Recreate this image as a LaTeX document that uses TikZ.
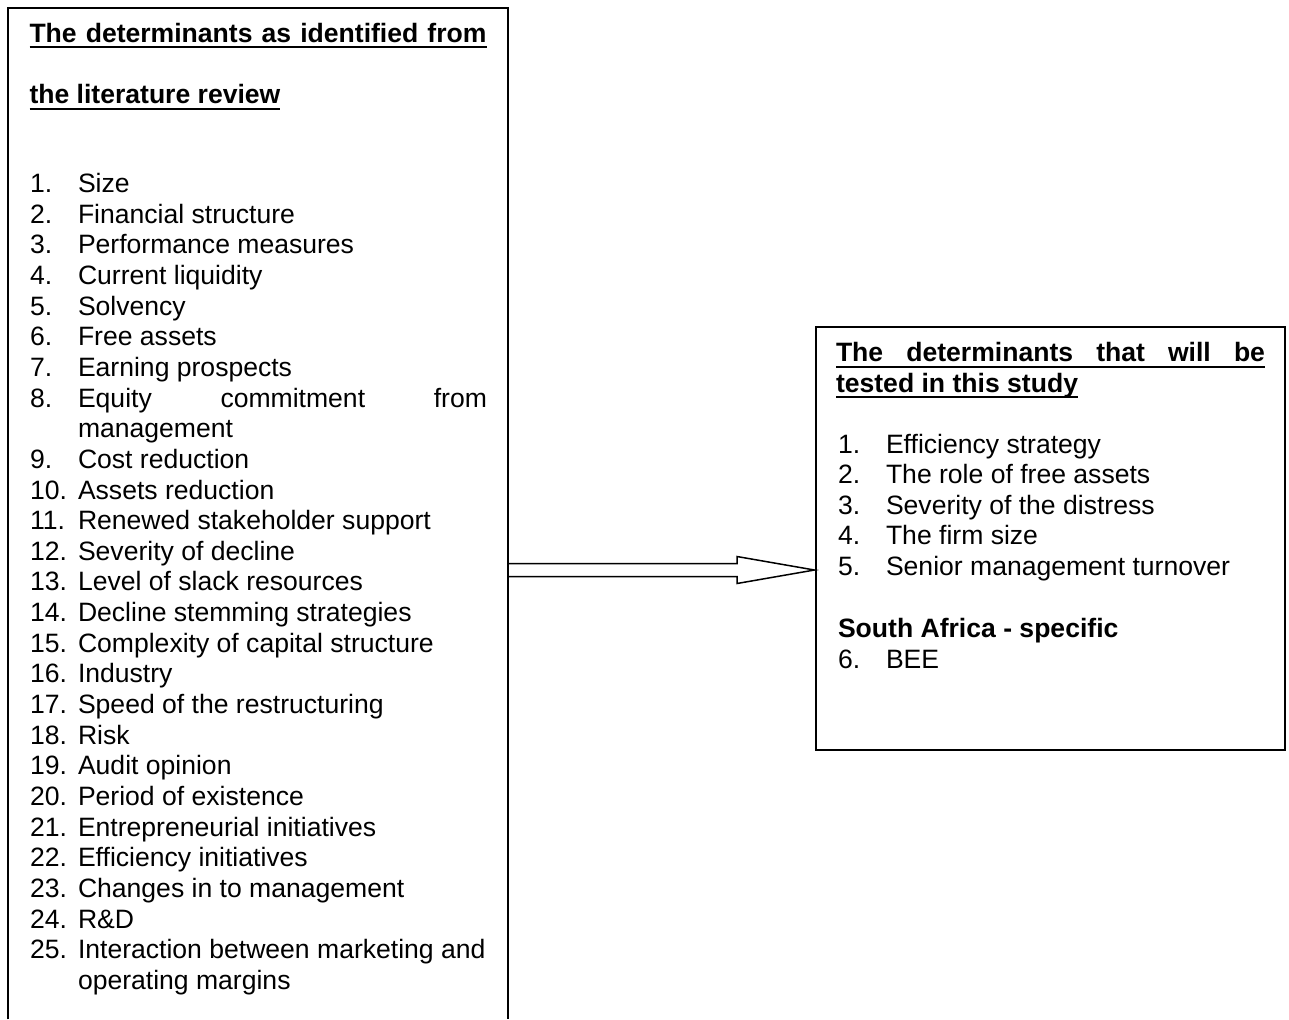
\documentclass[tikz,border=0pt]{standalone}
\usepackage{fontspec}
\setmainfont{Liberation Sans}
\usetikzlibrary{fit,calc}
% underlined heading text: rule sits a little below the baseline
\newcommand\hdline[1]{\setbox0\hbox{#1}\rlap{\rule[-3pt]{\wd0}{1pt}}\box0}
\newcommand\bodysize{\fontsize{13.28pt}{15.33pt}\selectfont}
\begin{document}
\begin{tikzpicture}[x=0.5pt,y=-0.5pt,
  txt/.style={anchor=base west, inner sep=0pt, outer sep=0pt, font=\bodysize},
  head/.style={txt, font=\bodysize\bfseries},
  frame/.style={draw, line width=1pt},
  hollowarrow/.style={draw, line width=0.75pt, line join=miter}]
\useasboundingbox (0,0) rectangle (1289,1019);

% ---------- left box: determinants from the literature ----------
\node[fit={(8.5,8.5) (507.5,1019)}, inner sep=0pt] (L) {};
\draw[line width=1pt] (L.south west) -- (L.north west) -- (L.north east) -- (L.south east);

\node[head] (lh1) at (29.5,42) {\hdline{\makebox[228.5pt][s]{The determinants as identified from}}};
\node[head] (lh2) at (29.5,103.5) {\hdline{the literature review}};

\foreach \k/\t in {1/Size, 2/Financial structure, 3/Performance measures,
  4/Current liquidity, 5/Solvency, 6/Free assets, 7/Earning prospects}{
  \node[txt] (ln\k) at (30,{192.5+30.65*(\k-1)}) {\k.};
  \node[txt] (lt\k) at (78,{192.5+30.65*(\k-1)}) {\t};
}
\node[txt] (ln8) at (30,{192.5+30.65*7}) {8.};
\node[txt] (lt8) at (78,{192.5+30.65*7}) {\makebox[204.5pt][s]{Equity commitment from}};
\node[txt] (lt8b) at (78,{192.5+30.65*8}) {management};
\foreach \k/\t in {9/Cost reduction, 10/Assets reduction,
  11/Renewed stakeholder support, 12/Severity of decline,
  13/Level of slack resources, 14/Decline stemming strategies,
  15/Complexity of capital structure, 16/Industry,
  17/Speed of the restructuring, 18/Risk, 19/Audit opinion,
  20/Period of existence, 21/Entrepreneurial initiatives,
  22/Efficiency initiatives, 23/Changes in to management, 24/R\&D,
  25/Interaction between marketing and}{
  \node[txt] (ln\k) at (30,{192.5+30.65*\k}) {\k.};
  \node[txt] (lt\k) at (78,{192.5+30.65*\k}) {\t};
}
\node[txt] (lt25b) at (78,{192.5+30.65*26}) {operating margins};

% ---------- right box: determinants tested in this study ----------
\node[frame, fit={(815.5,326.5) (1284.5,750)}, inner sep=0pt] (R) {};

\node[head] (rh1) at (836,361.7) {\hdline{\makebox[214.5pt][s]{The determinants that will be}}};
\node[head] (rh2) at (836,392.3) {\hdline{tested in this study}};

\foreach \k/\t in {1/Efficiency strategy, 2/The role of free assets,
  3/Severity of the distress, 4/The firm size, 5/Senior management turnover}{
  \node[txt] (rn\k) at (838,{453+30.65*(\k-1)}) {\k.};
  \node[txt] (rt\k) at (886,{453+30.65*(\k-1)}) {\t};
}
\node[head] (rsa) at (838,637) {South Africa - specific};
\node[txt] (rn6) at (838,668) {6.};
\node[txt] (rt6) at (886,668) {BEE};

% ---------- hollow block arrow from left box to right box ----------
\coordinate (tail) at (L.east |- 0,570);
\coordinate (tip) at (R.west |- 0,570);
\draw[hollowarrow]
  ([yshift=3.25pt]tail) -- ([xshift=-38.75pt,yshift=3.25pt]tip)
  -- ([xshift=-38.75pt,yshift=6.75pt]tip) -- (tip)
  -- ([xshift=-38.75pt,yshift=-6.75pt]tip)
  -- ([xshift=-38.75pt,yshift=-3.25pt]tip) -- ([yshift=-3.25pt]tail);
\end{tikzpicture}
\end{document}
